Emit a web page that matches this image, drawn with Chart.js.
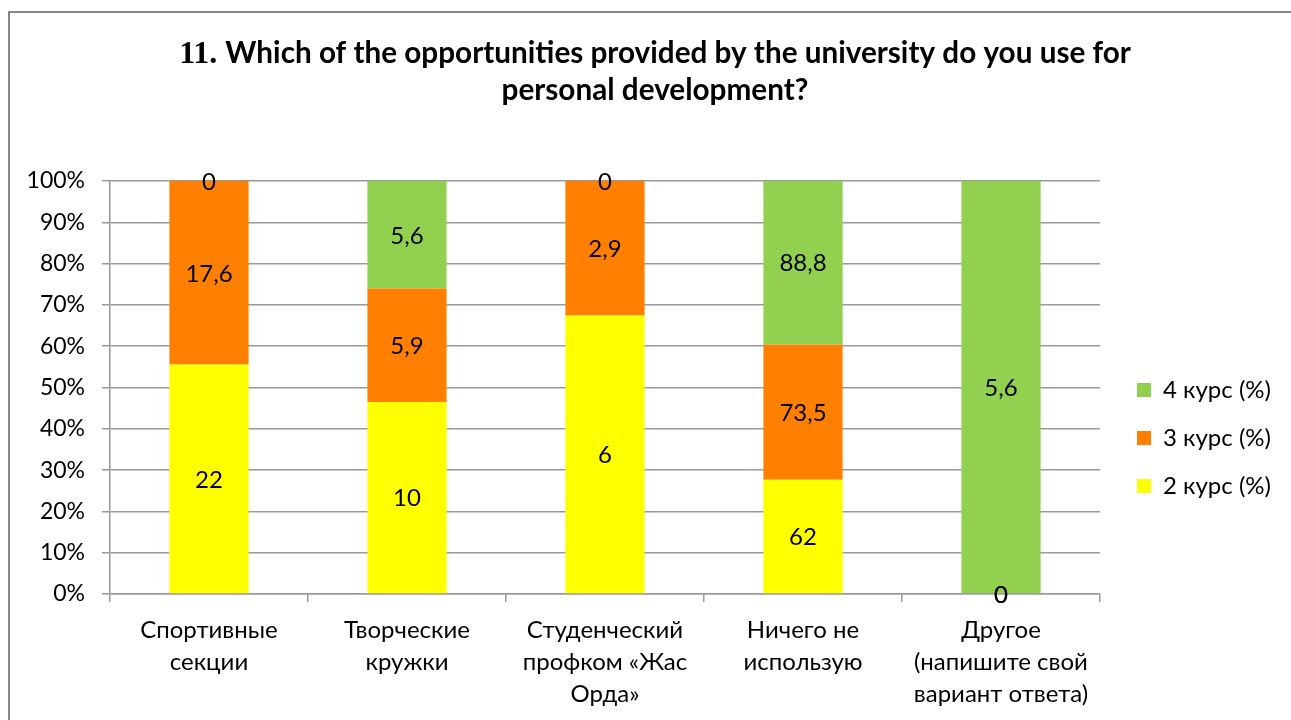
<!DOCTYPE html>
<html><head><meta charset="utf-8">
<script src="https://cdn.jsdelivr.net/npm/chart.js@4.4.1/dist/chart.umd.min.js"></script>
<style>html,body{margin:0;padding:0;background:#fff;}#wrap{position:relative;width:1291px;height:720px;}</style>
</head><body><div id="wrap"><canvas id="c" width="1291" height="720"></canvas></div>
<script>
const titleNumber = '11.';
const titleLines = ['Which of the opportunities provided by the university do you use for', 'personal development?'];
const categories = [
  ['Спортивные', 'секции'],
  ['Творческие', 'кружки'],
  ['Студенческий', 'профком «Жас', 'Орда»'],
  ['Ничего не', 'использую'],
  ['Другое', '(напишите свой', 'вариант ответа)']
];
const seriesNames = ['2 курс (%)', '3 курс (%)', '4 курс (%)'];
const kurs2 = [22, 10, 6, 62, 0];
const kurs3 = [17.6, 5.9, 2.9, 73.5, 0];
const kurs4 = [0, 5.6, 0, 88.8, 5.6];
const yTickValues = [0, 10, 20, 30, 40, 50, 60, 70, 80, 90, 100];

const FONT = 'Lato, "Open Sans", sans-serif';
const GRID = '#999999';
const rawSeries = [kurs2, kurs3, kurs4];
const colors = ['#FFFF00', '#FF8000', '#92D050'];
const totals = categories.map((_, i) => rawSeries.reduce((s, arr) => s + arr[i], 0));
const shares = rawSeries.map(arr => arr.map((v, i) => totals[i] ? v / totals[i] * 100 : 0));

const framePlugin = {
  id: 'frame',
  beforeDraw(chart) {
    const ctx = chart.ctx;
    ctx.save();
    ctx.fillStyle = '#fff';
    ctx.fillRect(0, 0, chart.width, chart.height);
    ctx.strokeStyle = '#888';
    ctx.lineWidth = 2;
    ctx.strokeRect(9, 12, 2000, 2000);
    // title
    ctx.fillStyle = '#000';
    ctx.textBaseline = 'alphabetic';
    ctx.textAlign = 'left';
    const numFont = 'bold 32px "Liberation Serif", serif';
    const txtFont = 'bold 29.7px ' + FONT;
    ctx.font = numFont;
    const wNum = ctx.measureText(titleNumber + ' ').width;
    ctx.font = txtFont;
    const w1 = ctx.measureText(titleLines[0]).width;
    const cx = 655;
    let x = cx - (wNum + w1) / 2;
    ctx.font = numFont;
    ctx.fillText(titleNumber + ' ', x, 63);
    ctx.font = txtFont;
    ctx.fillText(titleLines[0], x + wNum, 63);
    ctx.textAlign = 'center';
    ctx.fillText(titleLines[1], cx, 100);
    ctx.restore();
  },
  afterInit(chart) {
    const lg = chart.legend;
    if (lg) {
      const f = lg.fit.bind(lg);
      lg.fit = function () { f(); this.width = 191; };
    }
  },
  afterLayout(chart) {
    const lg = chart.legend;
    if (lg) {
      lg.left = 1113; lg.right = 1291; lg.top = 354; lg.bottom = 720;
    }
  }
};

const labelPlugin = {
  id: 'vals',
  afterDatasetsDraw(chart) {
    const ctx = chart.ctx;
    ctx.save();
    ctx.font = '24px ' + FONT;
    ctx.fillStyle = '#000';
    ctx.textAlign = 'center';
    ctx.textBaseline = 'middle';
    chart.data.datasets.forEach((ds, di) => {
      const meta = chart.getDatasetMeta(di);
      meta.data.forEach((el, i) => {
        const v = ds.rawValues[i];
        const y = (el.y + el.base) / 2;
        ctx.fillText(String(v).replace('.', ','), el.x, y + 1);
      });
    });
    ctx.restore();
  }
};

new Chart(document.getElementById('c'), {
  type: 'bar',
  data: {
    labels: categories,
    datasets: seriesNames.map((name, k) => ({
      label: name,
      data: shares[k],
      rawValues: rawSeries[k],
      backgroundColor: colors[k],
      borderWidth: 0,
      barPercentage: 0.4,
      categoryPercentage: 1.0
    }))
  },
  options: {
    responsive: false,
    animation: false,
    devicePixelRatio: 1,
    layout: { padding: { top: 181, left: 0, right: 0, bottom: 0 } },
    plugins: {
      title: { display: false },
      tooltip: { enabled: false },
      legend: {
        position: 'right',
        align: 'start',
        reverse: true,
        labels: { boxWidth: 14, boxHeight: 14, padding: 24, color: '#000', font: { family: FONT, size: 24 } }
      }
    },
    scales: {
      x: {
        stacked: true,
        grid: { offset: true, drawOnChartArea: false, drawTicks: true, tickLength: 8, color: GRID, lineWidth: 1.5 },
        border: { display: true, color: GRID, width: 1.5 },
        ticks: { color: '#000', font: { family: FONT, size: 24, lineHeight: 1.333 }, padding: 12, maxRotation: 0, autoSkip: false },
        afterFit(s) { s.height = 126; }
      },
      y: {
        stacked: true,
        min: 0, max: 100,
        afterBuildTicks(s) { s.ticks = yTickValues.map(v => ({ value: v })); },
        ticks: { color: '#000', font: { family: FONT, size: 23 }, padding: 17, callback: v => v + '%' },
        grid: { color: GRID, lineWidth: 1.5, tickLength: 8 },
        border: { display: true, color: GRID, width: 1.5 },
        afterFit(s) { s.width = 110; }
      }
    }
  },
  plugins: [framePlugin, labelPlugin]
});
</script>
</body></html>
